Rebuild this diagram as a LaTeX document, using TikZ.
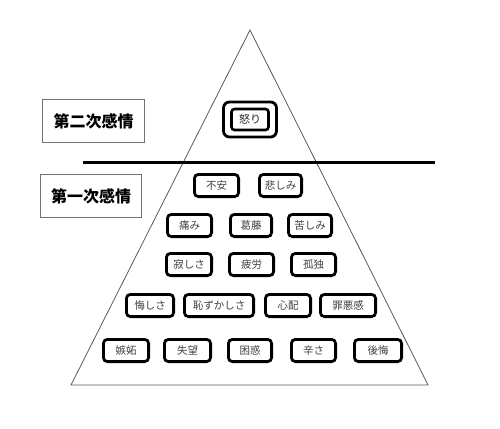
\documentclass[tikz,border=0pt]{standalone}
\usepackage{fontspec}
\newfontfamily\jp{Noto Sans CJK JP}
\begin{document}
\begin{tikzpicture}[x=1pt,y=-1pt,
  emo/.style={draw=black, line width=2.8pt, rounded corners=4pt, fill=white,
    minimum height=22.2pt, inner sep=0pt, font=\jp\fontsize{10.5}{11}\selectfont, text=black!75},
  lab/.style={draw=black!55, line width=0.8pt, inner sep=0pt, font=\jp\bfseries\fontsize{16}{18}\selectfont, text=black}]
\useasboundingbox (0,0) rectangle (500,428);
% pyramid
\coordinate (apex) at (250,30);
\coordinate (bl) at (71,385);
\coordinate (br) at (428,385);
\draw[black!65, line width=0.8pt] (apex) -- (bl) -- (br) -- cycle;
% divider
\coordinate (dl) at (83,162);
\coordinate (dr) at (435,162);
\draw[black, line width=3pt] (dl) -- (dr);
% labels
\node[lab, minimum width=102pt, minimum height=43pt] (sec) at (93.5,121) {第二次感情};
\node[lab, minimum width=101pt, minimum height=43pt] (pri) at (91,196) {第一次感情};
% anger (double border)
\node[draw=black, line width=2.8pt, rounded corners=6pt, minimum width=53pt, minimum height=35pt, fill=white] (ikari) at (250,119.5) {};
\node[emo, rounded corners=3pt, minimum width=37pt, minimum height=21pt, line width=2.6pt, font=\jp\fontsize{11}{12}\selectfont, text=black!85] (ikariin) at (250,119.5) {怒り};
% row 1
\node[emo, minimum width=44.2pt] (fuan) at (216.5,185.5) {不安};
\node[emo, minimum width=42.2pt] (kanashimi) at (280.5,185.5) {悲しみ};
% row 2
\node[emo, minimum width=44.2pt] (itami) at (189.5,225.5) {痛み};
\node[emo, minimum width=41.2pt] (kattou) at (251,225.5) {葛藤};
\node[emo, minimum width=43.2pt] (kurushimi) at (310,225.5) {苦しみ};
% row 3
\node[emo, minimum width=45.2pt] (sabishisa) at (189,264.5) {寂しさ};
\node[emo, minimum width=44.2pt] (hirou) at (251.5,264.5) {疲労};
\node[emo, minimum width=44.2pt] (kodoku) at (313.5,264.5) {孤独};
% row 4
\node[emo, minimum width=47.2pt] (kuyashisa) at (150,305.5) {悔しさ};
\node[emo, minimum width=69.2pt] (hazukashisa) at (219,305.5) {恥ずかしさ};
\node[emo, minimum width=45.2pt] (shinpai) at (288,305.5) {心配};
\node[emo, minimum width=55.2pt] (zaiakukan) at (348,305.5) {罪悪感};
% row 5
\node[emo, minimum width=45.2pt] (shitto) at (126,350.5) {嫉妬};
\node[emo, minimum width=46.2pt] (shitsubou) at (187.5,350.5) {失望};
\node[emo, minimum width=43.2pt] (konwaku) at (250,350.5) {困惑};
\node[emo, minimum width=44.2pt] (tsurasa) at (313.5,350.5) {辛さ};
\node[emo, minimum width=47.2pt] (koukai) at (378,350.5) {後悔};
\end{tikzpicture}
\end{document}
